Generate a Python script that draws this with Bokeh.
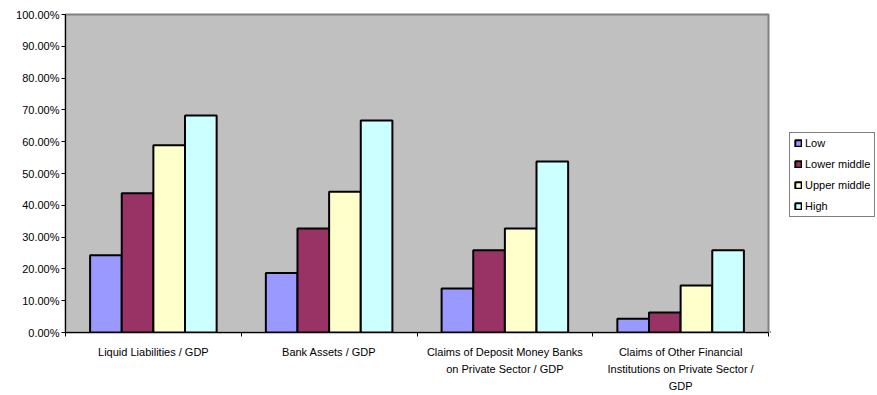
from bokeh.plotting import figure
from bokeh.layouts import row
from bokeh.models import Range1d, FixedTicker, NumeralTickFormatter, Legend
from bokeh.embed import file_html
from bokeh.resources import INLINE

# Financial depth indicators by income group (share of GDP)
categories = [
    "Liquid Liabilities / GDP",
    "Bank Assets / GDP",
    "Claims of Deposit Money Banks\non Private Sector / GDP",
    "Claims of Other Financial\nInstitutions on Private Sector /\nGDP",
]
groups = ["Low", "Lower middle", "Upper middle", "High"]
low = [0.243, 0.187, 0.138, 0.043]
lower_middle = [0.438, 0.327, 0.259, 0.063]
upper_middle = [0.589, 0.443, 0.327, 0.148]
high = [0.682, 0.667, 0.538, 0.259]
y_ticks = [0.0, 0.1, 0.2, 0.3, 0.4, 0.5, 0.6, 0.7, 0.8, 0.9, 1.0]

series = [low, lower_middle, upper_middle, high]
colors = ["#9999FF", "#993366", "#FFFFCC", "#CCFFFF"]

FONT = "Liberation Sans"
bar_w = 0.18

p = figure(
    width=770, height=395,
    x_range=Range1d(0, len(categories)), y_range=Range1d(0, 1),
    output_backend="svg", toolbar_location=None,
    min_border_left=65, min_border_right=2,
    min_border_top=14, min_border_bottom=61,
)
p.background_fill_color = "#C0C0C0"
p.border_fill_color = "white"
p.outline_line_color = "#808080"
p.outline_line_width = 2
p.xgrid.visible = False
p.ygrid.visible = False

centers = [i + 0.5 for i in range(len(categories))]
for j, (vals, col) in enumerate(zip(series, colors)):
    xs = [c + (j - 1.5) * bar_w for c in centers]
    p.vbar(x=xs, top=vals, width=bar_w, bottom=0,
           fill_color=col, line_color="black", line_width=2)

# y axis: percentages
p.yaxis.ticker = FixedTicker(ticks=y_ticks, minor_ticks=[])
p.yaxis.formatter = NumeralTickFormatter(format="0.00%")
p.yaxis.major_tick_in = 0
p.yaxis.major_tick_out = 4
p.yaxis.major_label_standoff = 2
p.yaxis.axis_line_color = "black"
p.yaxis.major_tick_line_color = "black"
p.yaxis.major_label_text_font = FONT
p.yaxis.major_label_text_font_size = "11px"
p.yaxis.major_label_text_color = "black"

# x axis: category labels centered, tick marks on category boundaries
p.xaxis.ticker = FixedTicker(ticks=centers,
                             minor_ticks=list(range(len(categories) + 1)))
p.xaxis.major_label_overrides = {c: lab for c, lab in zip(centers, categories)}
p.xaxis.major_tick_line_color = None
p.xaxis.minor_tick_in = 0
p.xaxis.minor_tick_out = 4
p.xaxis.minor_tick_line_color = "black"
p.xaxis.axis_line_color = "black"
p.xaxis.major_label_standoff = 7
p.xaxis.major_label_text_font = FONT
p.xaxis.major_label_text_font_size = "11px"
p.xaxis.major_label_text_color = "black"
p.xaxis.major_label_text_line_height = 1.45

# legend panel: off-screen bars carry the swatch styles
lg = figure(
    width=107, height=395, x_axis_type=None, y_axis_type=None,
    x_range=Range1d(0, 1), y_range=Range1d(0, 1),
    output_backend="svg", toolbar_location=None,
    min_border=0, outline_line_color=None,
)
lg.xgrid.visible = False
lg.ygrid.visible = False
items = []
for name, col in zip(groups, colors):
    r = lg.vbar(x=[-5], top=[0], width=1, fill_color=col,
                line_color="black", line_width=2)
    items.append((name, [r]))

legend = Legend(items=items, location=(19, 115))
legend.margin = 0
legend.padding = 4
legend.spacing = 9
legend.glyph_width = 8
legend.glyph_height = 8
legend.label_height = 12
legend.label_standoff = 3
legend.label_text_font = FONT
legend.label_text_font_size = "11px"
legend.label_text_color = "black"
legend.border_line_color = "black"
legend.border_line_width = 1
legend.background_fill_color = "white"
legend.background_fill_alpha = 1
lg.add_layout(legend, "center")

layout = row(p, lg, spacing=0)
open("out.html", "w").write(file_html(layout, INLINE))
